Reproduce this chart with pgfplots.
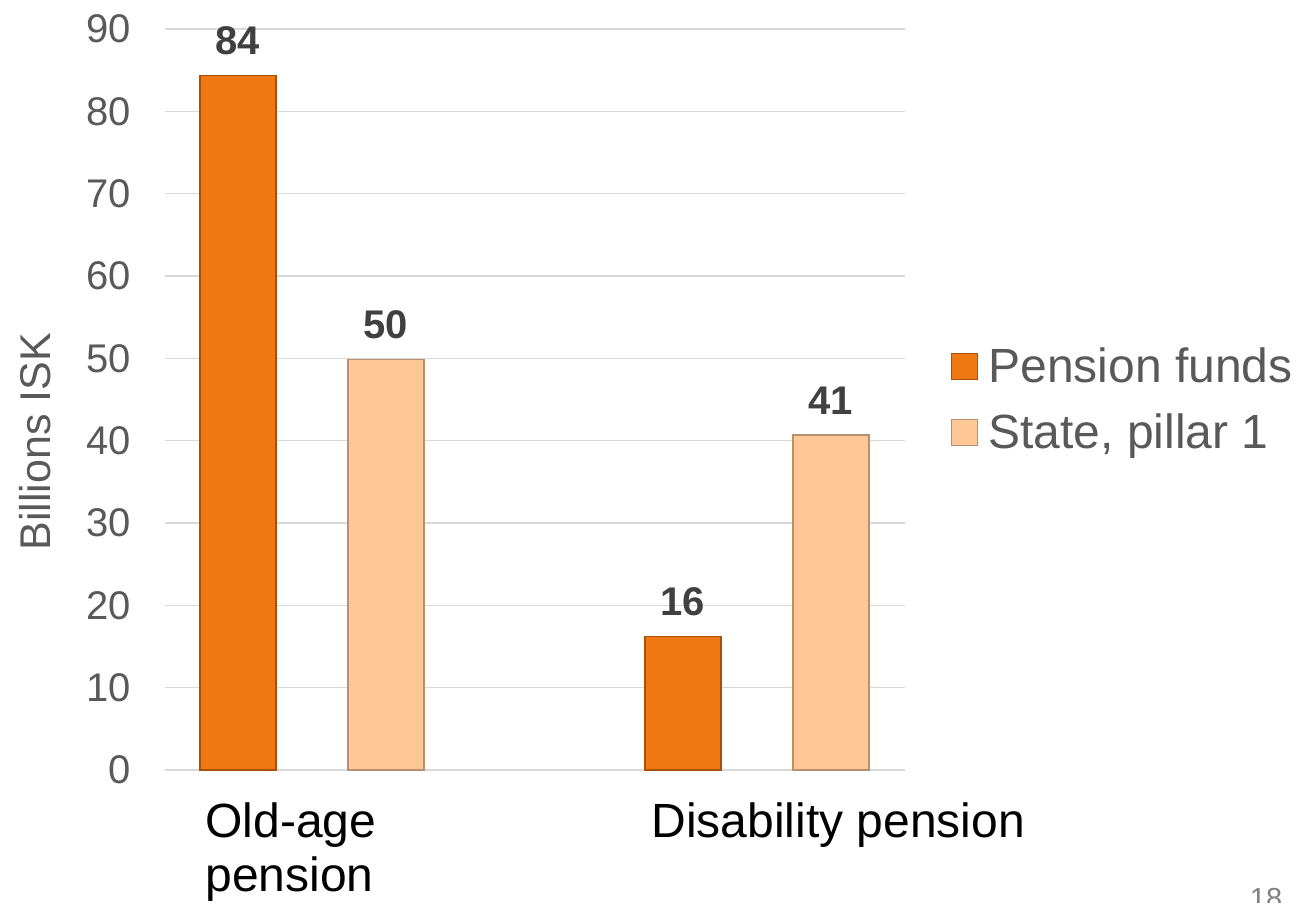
\documentclass[border=0pt]{standalone}
\usepackage{pgfplots}
\pgfplotsset{compat=1.18}
\usepackage{fontspec}
\setmainfont{Liberation Sans}
\definecolor{pfund}{HTML}{F07812}
\definecolor{pfundedge}{HTML}{A85008}
\definecolor{pstate}{HTML}{FDC896}
\definecolor{pstateedge}{HTML}{B8906E}
\definecolor{gridc}{HTML}{D9D9D9}
\definecolor{ticktext}{HTML}{595959}
\definecolor{valtext}{HTML}{404040}
\begin{document}
\begin{tikzpicture}
\path[use as bounding box] (-82.5pt,-66pt) rectangle (570pt,385pt);
\begin{axis}[
  at={(0,0)}, anchor=south west,
  scale only axis,
  width=370pt, height=370.5pt,
  /pgf/number format/assume math mode=true,
  xmin=-0.3303, xmax=1.3326,
  ymin=0, ymax=90,
  ytick={0,10,...,90},
  xtick={-0.240,0.762},
  xticklabels={{Old-age\\pension},{Disability pension}},
  xticklabel style={anchor=north west, align=left, inner sep=0pt, font=\fontsize{24}{27}\selectfont, text=black, yshift=-16pt},
  yticklabel style={anchor=east, inner sep=0pt, font=\fontsize{20}{24}\selectfont, text=ticktext, xshift=-17pt},
  major tick length=0pt,
  axis line style={draw=none},
  ymajorgrids, grid style={gridc, line width=0.8pt},
  ylabel={Billions ISK},
  ylabel style={at={(rel axis cs:-0.176,0.443)}, anchor=center, font=\fontsize{21.5}{24}\selectfont, text=ticktext},
  ybar, bar width=38pt,
  nodes near coords={\pgfmathprintnumber[fixed,precision=0,assume math mode=true]{\pgfplotspointmeta}},
  every node near coord/.append style={font=\bfseries\fontsize{20}{24}\selectfont, text=valtext, inner sep=0pt, yshift=10pt},
  legend style={at={(1.062,0.5)}, anchor=west, draw=none, fill=none, font=\fontsize{24}{28}\selectfont, text=ticktext, row sep=10pt, column sep=3pt, inner sep=0pt},
  legend cell align=left,
  legend image code/.code={\draw[#1, line width=0.6pt] (0pt,-6.5pt) rectangle (13pt,6.5pt);},
]
\addplot[bar shift=-37pt, fill=pfund, draw=pfundedge, line width=0.6pt] coordinates {(0,84.4) (1,16.2)};
\addplot[bar shift=37pt, fill=pstate, draw=pstateedge, line width=0.6pt] coordinates {(0,49.9) (1,40.7)};
\legend{Pension funds, {State, pillar 1}}
\end{axis}
\node[anchor=north, inner sep=0pt, font=\fontsize{14.5}{17}\selectfont, text=gray] at (550.5pt,-59pt) {18};
\end{tikzpicture}
\end{document}
